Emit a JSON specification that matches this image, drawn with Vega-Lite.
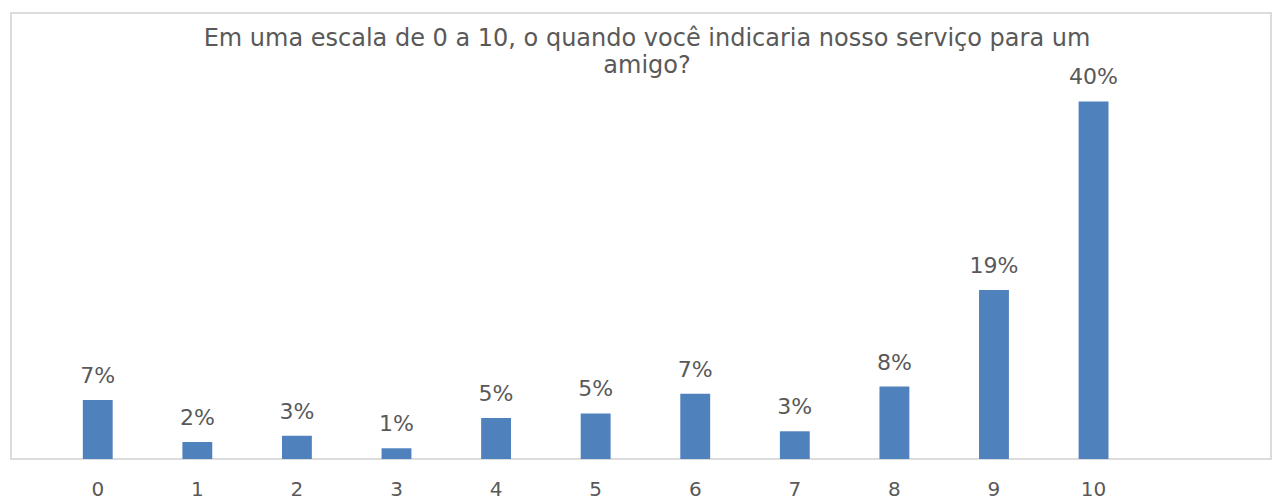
{
  "$schema": "https://vega.github.io/schema/vega-lite/v6.json",
  "width": 1260,
  "height": 446,
  "autosize": {"type": "none"},
  "padding": {"left": 11, "top": 13, "right": 2, "bottom": 41},
  "background": "white",
  "title": {
    "text": ["Em uma escala de 0 a 10, o quando você indicaria nosso serviço para um", "amigo?"],
    "font": "DejaVu Sans",
    "fontSize": 24,
    "fontWeight": "normal",
    "color": "#595959",
    "anchor": "middle",
    "baseline": "alphabetic",
    "lineHeight": 27,
    "offset": 0,
    "dy": 84,
    "dx": 6
  },
  "config": {
    "view": {"stroke": "#DCDCDC", "strokeWidth": 2},
    "text": {"font": "DejaVu Sans"}
  },
  "data": {
    "values": [
      {"nota": "0", "pct": 0.066},
      {"nota": "1", "pct": 0.019},
      {"nota": "2", "pct": 0.026},
      {"nota": "3", "pct": 0.012},
      {"nota": "4", "pct": 0.046},
      {"nota": "5", "pct": 0.051},
      {"nota": "6", "pct": 0.073},
      {"nota": "7", "pct": 0.031},
      {"nota": "8", "pct": 0.081},
      {"nota": "9", "pct": 0.189},
      {"nota": "10", "pct": 0.40}
    ]
  },
  "encoding": {
    "x": {
      "field": "nota",
      "type": "ordinal",
      "sort": null,
      "scale": {
        "domain": ["0", "1", "2", "3", "4", "5", "6", "7", "8", "9", "10", " "],
        "paddingInner": 0.7,
        "paddingOuter": 0.6765,
        "align": 0.533,
        "round": false
      },
      "axis": {
        "title": null,
        "labelAngle": 0,
        "ticks": false,
        "domain": false,
        "labelFont": "DejaVu Sans",
        "labelFontSize": 20,
        "labelColor": "#595959",
        "labelBaseline": "alphabetic",
        "labelPadding": 36
      }
    },
    "y": {
      "field": "pct",
      "type": "quantitative",
      "scale": {"domain": [0, 0.499], "nice": false},
      "axis": null
    }
  },
  "layer": [
    {"mark": {"type": "bar", "color": "#4F81BD"}},
    {
      "mark": {"type": "text", "baseline": "alphabetic", "dy": -17, "fontSize": 22, "color": "#595959", "font": "DejaVu Sans"},
      "encoding": {"text": {"field": "pct", "type": "quantitative", "format": ".0%"}}
    }
  ]
}
